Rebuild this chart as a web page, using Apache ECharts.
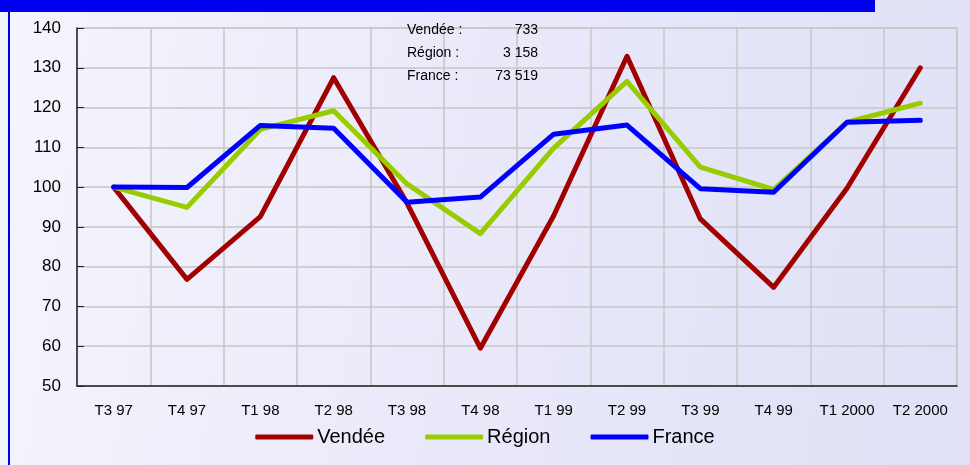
<!DOCTYPE html>
<html>
<head>
<meta charset="utf-8">
<script src="https://cdn.jsdelivr.net/npm/echarts@6/dist/echarts.min.js"></script>
<style>
html,body{margin:0;padding:0;}
#chart{width:970px;height:465px;}
</style>
</head>
<body>
<div id="chart"></div>
<script>
const categories = ['T3 97','T4 97','T1 98','T2 98','T3 98','T4 98','T1 99','T2 99','T3 99','T4 99','T1 2000','T2 2000'];
const vendee = [100, 76.8, 92.6, 127.5, 96, 59.5, 92.8, 132.9, 92, 74.8, 99.7, 130];
const region = [100, 94.9, 114.5, 119.2, 100.8, 88.3, 109.8, 126.6, 105, 99.4, 116.3, 121.1];
const france = [100, 99.9, 115.5, 114.8, 96.2, 97.5, 113.3, 115.6, 99.6, 98.7, 116.3, 116.8];
const yTicks = {min: 50, max: 140, interval: 10};
const annotLabels = ['Vendée :', 'Région :', 'France :'];
const annotValues = ['733', '3 158', '73 519'];

const font = "'Liberation Sans', Arial, sans-serif";
const chart = echarts.init(document.getElementById('chart'));

const graphics = [
  {type:'rect', shape:{x:0,y:0,width:875,height:12}, style:{fill:'#0000f0'}, z:10},
  {type:'rect', shape:{x:8,y:0,width:2,height:465}, style:{fill:'#0000f0'}, z:10}
];
annotLabels.forEach((t,i)=>{
  graphics.push({type:'text', x:407, y:30.5+i*22.6, style:{text:t, fill:'#000', font:'14px '+font, textAlign:'left', textVerticalAlign:'middle'}, z:20});
  graphics.push({type:'text', x:538, y:30.5+i*22.6, style:{text:annotValues[i], fill:'#000', font:'14px '+font, textAlign:'right', textVerticalAlign:'middle'}, z:20});
});

const lineSeries = (name, data, color) => ({
  name, type:'line', data, symbol:'none', smooth:false,
  lineStyle:{color, width:5, cap:'round', join:'round'},
  itemStyle:{color}
});

chart.setOption({
  animation:false,
  backgroundColor:{
    type:'linear', x:0, y:0, x2:1, y2:0.3,
    colorStops:[{offset:0,color:'#f5f5fd'},{offset:0.5,color:'#e9e9fa'},{offset:1,color:'#e1e1f7'}]
  },
  grid:{left:77, right:13, top:28, bottom:79, show:true, borderColor:'#c6c6c6', borderWidth:1, backgroundColor:'transparent'},
  xAxis:{
    type:'category', data:categories, boundaryGap:true,
    axisLine:{lineStyle:{color:'#222', width:1.5}},
    axisTick:{inside:true, length:6, interval:0, lineStyle:{color:'#222'}},
    axisLabel:{color:'#000', fontSize:15, fontFamily:font, margin:17, interval:0},
    splitLine:{show:true, interval:0, lineStyle:{color:'#c6c6c6', width:1.5}}
  },
  yAxis:{
    type:'value', min:yTicks.min, max:yTicks.max, interval:yTicks.interval,
    axisLine:{show:true, lineStyle:{color:'#222', width:1.5}},
    axisTick:{show:true, inside:true, length:7, lineStyle:{color:'#222'}},
    axisLabel:{color:'#000', fontSize:17, fontFamily:font, margin:16},
    splitLine:{show:true, lineStyle:{color:'#c6c6c6', width:1.5}}
  },
  legend:{
    bottom:13, left:'center',
    itemWidth:58, itemHeight:5, itemGap:40, icon:'roundRect',
    textStyle:{fontSize:20, fontFamily:font, color:'#000', padding:[0,0,0,-1]},
    data:['Vendée','Région','France']
  },
  series:[
    lineSeries('Vendée', vendee, '#a00000'),
    lineSeries('Région', region, '#99cc00'),
    lineSeries('France', france, '#0000ff')
  ],
  graphic:graphics
});
</script>
</body>
</html>
